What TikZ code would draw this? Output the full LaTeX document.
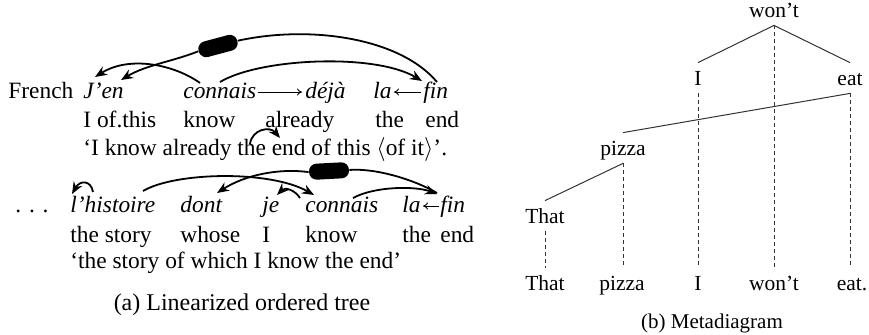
\documentclass[tikz,border=0pt]{standalone}
\usepackage{fontspec}
\setmainfont{Liberation Serif}
\usetikzlibrary{positioning, arrows.meta, calc}

\begin{document}
\begin{tikzpicture}[
				x=0.5pt, y=-0.5pt,
				% --- ESTILOS ---
				word/.style={anchor=base west, inner sep=0pt, font=\fontsize{11.7}{13}\selectfont},
				fword/.style={word, font=\fontsize{11.7}{13}\selectfont\itshape},
				dep/.style={draw, line width=0.9pt, -{Stealth[length=6pt, width=4.8pt]}},
				depline/.style={draw, line width=0.9pt},
				txtarrow/.style={draw, line width=0.45pt, -{To[length=2.5pt, width=3.5pt]}},
				blob/.style={rectangle, fill=black, rounded corners=3.8pt, minimum width=20pt, minimum height=8pt, inner sep=0pt},
				mword/.style={anchor=base, inner sep=4pt, text height=7pt, text depth=0pt, font=\fontsize{10.75}{12}\selectfont},
				tline/.style={draw, line width=0.5pt, color=black!80},
				dline/.style={draw, line width=0.45pt, dash pattern=on 2pt off 1.5pt, color=black!80},
				caption/.style={anchor=base, inner sep=0pt}
				]
				\useasboundingbox (0,0) rectangle (869,334);
				
				% ==========================================
				% 1. Primera frase (French)
				% ==========================================
				\node [word] (french) at (8,98) {French};
				\node [fword] (jen) at (83,98) {J’en};
				\node [fword] (connais) at (183,98) {connais};
				\node [fword] (deja) at (305,98) {déjà};
				\node [fword] (la) at (373,98) {la};
				\node [fword] (fin) at (423,98) {fin};
				
				\node [word] (gloss_a) at (83,127) {I of.this};
				\node [word] (know_a) at (183,127) {know};
				\node [word] (already_a) at (265,127) {already};
				\node [word] (the_a) at (375,127) {the};
				\node [word] (end_a) at (425,127) {end};
				\node [word] (trans_a) at (83,155) {‘I know already the end of this $\langle$of it$\rangle$’.};
				
				\draw [txtarrow] ($(connais.base east)+(1,-6)$) -- ($(deja.base west)+(-3,-6)$);
				\draw [txtarrow] ($(fin.base west)+(-2,-6)$) -- ($(la.base east)+(2,-6)$);
				
				\node [blob, rotate=15] (blob_one) at (218,46) {};
				\draw [depline] ($(fin.base west)+(14,-16)$) .. controls +(-37,-44) and +(73,-16) .. (blob_one.east);
				\draw [dep] (blob_one.west) .. controls +(-25,10) and +(25,-15) .. ($(jen.base west)+(38,-18)$);
				\draw [dep] ($(connais.base west)+(17,-15)$) .. controls +(-25,-18) and +(35,-22) .. ($(jen.base west)+(12,-21)$);
				\draw [dep] ($(connais.base west)+(37,-16)$) .. controls +(40,-24) and +(-47,-28) .. ($(fin.base west)+(-1,-17)$);
				\draw [dep] ($(trans_a.base west)+(167,-11)$) .. controls +(2,-15) and +(-10,-12) .. ($(trans_a.base west)+(197,-17)$);
				
				% ==========================================
				% 2. Segunda frase (relativa)
				% ==========================================
				\node [word] (dots) at (15,212) {.\,\,.\,\,.};
				\node [fword] (histoire) at (70,212) {l’histoire};
				\node [fword] (dont) at (180,212) {dont};
				\node [fword] (je) at (262,212) {je};
				\node [fword] (connais_b) at (305,212) {connais};
				\node [fword] (la_b) at (402,212) {la};
				\node [fword] (fin_b) at (440,212) {fin};
				
				\node [word] (story_b) at (70,242) {the story};
				\node [word] (whose_b) at (180,242) {whose};
				\node [word] (i_b) at (262,242) {I};
				\node [word] (know_b) at (305,242) {know};
				\node [word] (the_b) at (402,242) {the};
				\node [word] (end_b) at (440,242) {end};
				\node [word] (trans_b) at (70,268) {‘the story of which I know the end’};
				
				\draw [txtarrow] ($(fin_b.base west)+(-1,-6)$) -- ($(la_b.base east)+(2,-6)$);
				
				\node [blob, rotate=3] (blob_two) at (329,171) {};
				\draw [dep] ($(histoire.base west)+(23,-20)$) .. controls +(-2,-12) and +(8,-14) .. ($(histoire.base west)+(2,-18)$);
				\draw [dep] ($(histoire.base west)+(73,-21)$) .. controls +(32,-19) and +(-44,-25) .. ($(connais_b.base west)+(9,-17)$);
				\draw [dep] (blob_two.west) .. controls +(-30,-4) and +(28,-18) .. ($(dont.base west)+(37,-19)$);
				\draw [depline] ($(fin_b.base west)+(-3,-19)$) .. controls +(-22,-13) and +(27,-2) .. (blob_two.east);
				\draw [dep] ($(connais_b.base west)+(48,-14)$) .. controls +(22,-12) and +(-21,-8) .. ($(fin_b.base west)+(-3,-18)$);
				\draw [dep] ($(connais_b.base west)+(-5,-14)$) .. controls +(-5,-8) and +(8,-8) .. ($(je.base west)+(15,-17)$);
				
				\node [caption, font=\fontsize{12}{14}\selectfont] (cap_a) at (242,310) {(a) Linearized ordered tree};
				
				% ==========================================
				% 3. Metadiagrama
				% ==========================================
				\node [mword] (wont_t) at (774,17) {won’t};
				\node [mword] (i_t) at (698,85) {I};
				\node [mword] (eat_t) at (850,85) {eat};
				\node [mword] (pizza_t) at (623,155) {pizza};
				\node [mword] (that_t) at (545,223) {That};
				
				\node [mword] (that_w) at (545,290) {That};
				\node [mword] (pizza_w) at (622,290) {pizza};
				\node [mword] (i_w) at (698,290) {I};
				\node [mword] (wont_w) at (774,290) {won’t};
				\node [mword] (eat_w) at (852,290) {eat.};
				
				\draw [tline] (wont_t.south) -- (i_t.north);
				\draw [tline] (wont_t.south) -- (eat_t.north);
				\draw [tline] (eat_t.south) -- (pizza_t.north);
				\draw [tline] (pizza_t.south) -- (that_t.north);
				
				\draw [dline] (wont_t.south) -- (wont_w.north);
				\draw [dline] (i_t.south) -- (i_w.north);
				\draw [dline] (eat_t.south) -- (eat_t.south |- eat_w.north);
				\draw [dline] (pizza_t.south) -- (pizza_t.south |- pizza_w.north);
				\draw [dline] (that_t.south) -- (that_w.north);
				
				\node [caption, font=\fontsize{10.5}{12}\selectfont] (cap_b) at (712,328) {(b) Metadiagram};
			\end{tikzpicture}
\end{document}
